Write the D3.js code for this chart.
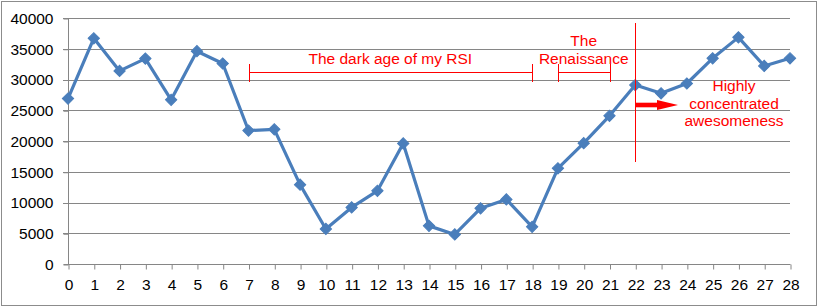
<!DOCTYPE html>
<html>
<head>
<meta charset="utf-8">
<script src="https://cdn.jsdelivr.net/npm/d3@7"></script>
<style>
  html, body { margin: 0; padding: 0; background: #fff; }
  svg { display: block; }
  text { font-family: "Liberation Sans", Arial, sans-serif; }
</style>
</head>
<body>
<svg id="chart" width="818" height="307"></svg>
<script>
// Data
const categories = d3.range(0, 29);
const values = [26900, 36700, 31400, 33400, 26700, 34600, 32600, 21700, 21900, 12900,
                5700, 9200, 11900, 19600, 6200, 4800, 9050, 10500, 6050, 15550,
                19650, 24100, 29100, 27750, 29350, 33450, 36850, 32200, 33450];
const yTicks = [0, 5000, 10000, 15000, 20000, 25000, 30000, 35000, 40000];
const brackets = [
  { from: 7, to: 18, lines: ["The dark age of my RSI"] },
  { from: 19, to: 21, lines: ["The", "Renaissance"] }
];
const markerAt = 22;
const arrowLines = ["Highly", "concentrated", "awesomeness"];

(function () {
const W = 818, H = 307;
const pLeft = 68, pRight = 790, pTop = 18, pBottom = 264;
const svg = d3.select("#chart");

// Outer border
svg.append("rect").attr("x", 1.5).attr("y", 1.5).attr("width", W - 3).attr("height", H - 3)
  .attr("fill", "#fff").attr("stroke", "#8c8c8c").attr("stroke-width", 1);

const x = d3.scaleLinear().domain([0, 28]).range([pLeft, pRight]);
const y = d3.scaleLinear().domain([0, 40000]).range([pBottom, pTop]);

const grey = "#868686";

// Gridlines
svg.append("g").selectAll("line").data(yTicks.filter(d => d > 0)).join("line")
  .attr("x1", pLeft - 5).attr("x2", pRight)
  .attr("y1", d => Math.round(y(d)) + 0.5).attr("y2", d => Math.round(y(d)) + 0.5)
  .attr("stroke", grey).attr("stroke-width", 1);

// Y axis
const yAxis = d3.axisLeft(y).tickValues(yTicks).tickSize(5).tickPadding(10).tickFormat(d3.format("d"));
const gy = svg.append("g").attr("transform", `translate(${pLeft + 0.5},0.5)`).call(yAxis);
gy.selectAll("path, line").attr("stroke", grey);
gy.select(".domain").attr("d", `M0,${pTop}V${pBottom}`);
gy.selectAll("text").attr("font-size", "15.5px").attr("fill", "#000")
  .attr("font-family", "'Liberation Sans', Arial, sans-serif");

// X axis
const xAxis = d3.axisBottom(x).tickValues(categories).tickSize(5).tickPadding(9).tickFormat(d3.format("d"));
const gx = svg.append("g").attr("transform", `translate(0.5,${pBottom + 0.5})`).call(xAxis);
gx.selectAll("path, line").attr("stroke", grey);
gx.select(".domain").attr("d", `M${pLeft - 5},0H${pRight}`);
gx.selectAll("text").attr("font-size", "15.5px").attr("fill", "#000")
  .attr("font-family", "'Liberation Sans', Arial, sans-serif");

// Line
const blue = "#4a7ebb";
const line = d3.line().x((d, i) => x(categories[i])).y(d => y(d));
svg.append("path").datum(values).attr("d", line)
  .attr("fill", "none").attr("stroke", blue).attr("stroke-width", 3.2).attr("stroke-linejoin", "round");

// Diamond markers
const diamond = d3.symbol().type(d3.symbolSquare).size(64);
svg.append("g").selectAll("path").data(values).join("path")
  .attr("d", diamond)
  .attr("transform", (d, i) => `translate(${x(categories[i])},${y(d)}) rotate(45)`)
  .attr("fill", blue).attr("stroke", blue).attr("stroke-width", 1);

// Annotations
const red = "#ff0000";
const ann = svg.append("g");
const by = 72.5;
brackets.forEach(b => {
  const x1 = Math.round(x(b.from)) + 0.5, x2 = Math.round(x(b.to)) + 0.5;
  ann.append("line").attr("x1", x1).attr("x2", x2).attr("y1", by).attr("y2", by)
    .attr("stroke", red).attr("stroke-width", 1);
  [x1, x2].forEach(xx => ann.append("line").attr("x1", xx).attr("x2", xx)
    .attr("y1", 64).attr("y2", 82).attr("stroke", red).attr("stroke-width", 1));
  const cx = (x(b.from) + x(b.to)) / 2;
  const n = b.lines.length;
  b.lines.forEach((t, i) => {
    ann.append("text").attr("x", cx).attr("y", 64 - (n - 1 - i) * 18.5)
      .attr("text-anchor", "middle").attr("font-size", "15.5px").attr("fill", red).text(t);
  });
});

// Vertical marker line
const vx = Math.round(x(markerAt));
ann.append("rect").attr("x", vx).attr("y", 23).attr("width", 1).attr("height", 139)
  .attr("fill", red);

// Arrow
const ay = 105;
ann.append("rect").attr("x", vx).attr("y", ay - 2.3).attr("width", 25).attr("height", 4.6)
  .attr("fill", red);
ann.append("path")
  .attr("d", `M${vx + 22},${ay - 5}L${vx + 43},${ay}L${vx + 22},${ay + 5}Z`)
  .attr("fill", red);

// Arrow text
arrowLines.forEach((t, i) => {
  ann.append("text").attr("x", 734).attr("y", 91 + i * 17.5)
    .attr("text-anchor", "middle").attr("font-size", "15.5px").attr("fill", red).text(t);
});
})();
</script>
</body>
</html>
